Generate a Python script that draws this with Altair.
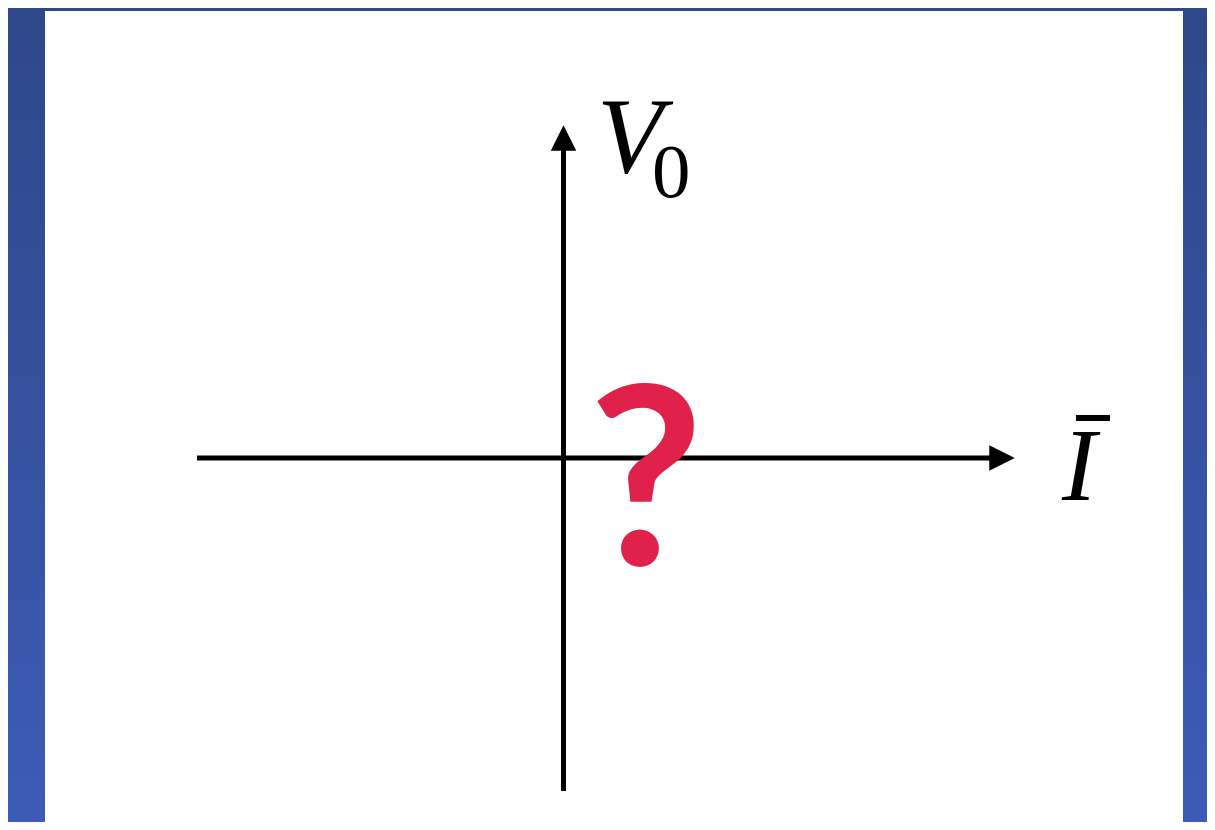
import altair as alt
import pandas as pd

# Page-pixel coordinate system (chart sits inside the page's 8px margin)
X_DOMAIN = [8, 1207]
Y_DOMAIN = [8, 822]

# Background and white panel
bg_x = [8, 1207]
bg_y = [8, 822]
panel_x = [45, 1183]
panel_y = [11, 822]

# Axis lines
h_axis_x = [197, 992]
h_axis_y = [458]
v_axis_x = [563.5]
v_axis_y = [146, 791]

# Arrowheads (center positions)
h_head = [1002, 458]
v_head = [563.5, 138]

# Labels
v_label = ["V", 597, 172]
v_sub = ["0", 652, 197]
i_label = ["I", 1062, 500]
i_bar_x = [1076, 1110]
i_bar_y = [418]
q_label = ["?", 646, 565]

xs = alt.Scale(domain=X_DOMAIN, range=[0, X_DOMAIN[1] - X_DOMAIN[0]])
ys = alt.Scale(domain=Y_DOMAIN, range=[0, Y_DOMAIN[1] - Y_DOMAIN[0]])


def X(f):
    return alt.X(f, type="quantitative", scale=xs, axis=None)


def Y(f):
    return alt.Y(f, type="quantitative", scale=ys, axis=None)


bg = alt.Chart(pd.DataFrame({"x": [bg_x[0]], "x2": [bg_x[1]], "y": [bg_y[0]], "y2": [bg_y[1]]})).mark_rect(
    fill=alt.LinearGradient(
        gradient="linear",
        stops=[alt.GradientStop(offset=0, color="#2e4889"),
               alt.GradientStop(offset=1, color="#3d5bb6")],
        x1=0, x2=0, y1=0, y2=1,
    )
).encode(x=X("x"), x2="x2", y=Y("y"), y2="y2")

panel = alt.Chart(pd.DataFrame({"x": [panel_x[0]], "x2": [panel_x[1]], "y": [panel_y[0]], "y2": [panel_y[1]]})).mark_rect(
    fill="white"
).encode(x=X("x"), x2="x2", y=Y("y"), y2="y2")

h_axis = alt.Chart(pd.DataFrame({"x": [h_axis_x[0]], "x2": [h_axis_x[1]], "y": h_axis_y})).mark_rule(
    color="black", strokeWidth=5
).encode(x=X("x"), x2="x2", y=Y("y"))

v_axis = alt.Chart(pd.DataFrame({"x": v_axis_x, "y": [v_axis_y[0]], "y2": [v_axis_y[1]]})).mark_rule(
    color="black", strokeWidth=5
).encode(x=X("x"), y=Y("y"), y2="y2")

h_arrow = alt.Chart(pd.DataFrame({"x": [h_head[0]], "y": [h_head[1]]})).mark_point(
    shape="M1,0L-1,-1L-1,1Z", size=650, filled=True, color="black", opacity=1, strokeWidth=0
).encode(x=X("x"), y=Y("y"))

v_arrow = alt.Chart(pd.DataFrame({"x": [v_head[0]], "y": [v_head[1]]})).mark_point(
    shape="M0,-1L-1,1L1,1Z", size=650, filled=True, color="black", opacity=1, strokeWidth=0
).encode(x=X("x"), y=Y("y"))


def label(item, size, style="normal", weight="normal", font="Liberation Serif", color="black", align="left"):
    t, x, y = item
    return alt.Chart(pd.DataFrame({"t": [t], "x": [x], "y": [y]})).mark_text(
        font=font, fontSize=size, fontStyle=style, fontWeight=weight, color=color,
        align=align, baseline="alphabetic"
    ).encode(x=X("x"), y=Y("y"), text="t:N")


v_text = label(v_label, 108, style="italic")
v_sub_text = label(v_sub, 77)
i_text = label(i_label, 103, style="italic")
i_bar = alt.Chart(pd.DataFrame({"x": [i_bar_x[0]], "x2": [i_bar_x[1]], "y": i_bar_y})).mark_rule(
    color="black", strokeWidth=6
).encode(x=X("x"), x2="x2", y=Y("y"))
q_text = label(q_label, 250, weight="bold", font="Lato", color="#e0224a", align="center")

chart = alt.layer(
    bg, panel, h_axis, v_axis, h_arrow, v_arrow, v_text, v_sub_text, i_text, i_bar, q_text
).properties(
    width=X_DOMAIN[1] - X_DOMAIN[0],
    height=Y_DOMAIN[1] - Y_DOMAIN[0],
    autosize=alt.AutoSizeParams(type="none"),
    padding=0,
).configure_view(stroke=None).configure(background="white")

chart.save("out.html", embed_options={"renderer": "svg", "actions": False})
